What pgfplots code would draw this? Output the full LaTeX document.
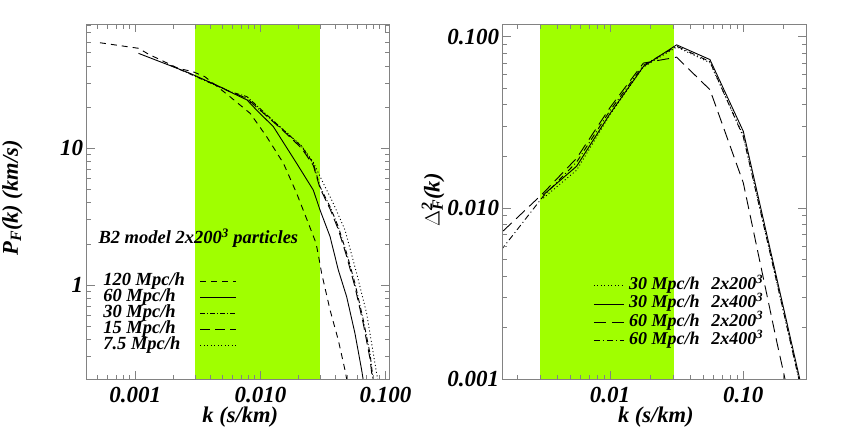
\documentclass[border=0pt]{standalone}
\usepackage{pgfplots}
\pgfplotsset{compat=1.18}
\usepackage{fontspec}
\setmainfont{Liberation Serif}

\definecolor{band}{RGB}{160,255,0}
\definecolor{frame}{RGB}{130,130,130}

\newcommand{\bi}[1]{\fontsize{#1}{#1}\selectfont\bfseries\itshape}

\pgfplotsset{
  idl/.style={
    scale only axis,
    height=354.7pt,
    axis on top,
    clip=true,
    axis line style={frame, line width=0.8pt},
    every tick/.style={frame, line width=0.6pt},
    tick align=inside,
    major tick length=8pt, minor tick length=4.5pt,
    ticklabel style={font=\bi{23}},
    xticklabel style={yshift=-5pt},
    label style={font=\bi{22.5}},
    xlabel={k (s/km)},
    legend cell align=left,
    every axis plot/.append style={line width=0.9pt, black},
  },
}

\begin{document}
\begin{tikzpicture}
\useasboundingbox (0,0) rectangle (866pt,432pt);

% left panel: flux power spectrum for the different box sizes
\begin{loglogaxis}[idl,
  at={(86.7pt,53pt)}, anchor=south west,
  width=302.3pt,
  xmin=0.000408, xmax=0.1069,
  ymin=0.2053, ymax=80.75,
  xtick={0.001,0.01,0.1}, xticklabels={0.001,0.010,0.100},
  minor xtick={0.0005,0.0006,0.0007,0.0008,0.0009,0.002,0.003,0.004,0.005,0.006,0.007,0.008,0.009,0.02,0.03,0.04,0.05,0.06,0.07,0.08,0.09},
  ytick={1,10}, yticklabels={1,10},
  minor ytick={0.3,0.4,0.5,0.6,0.7,0.8,0.9,2,3,4,5,6,7,8,9,20,30,40,50,60,70,80},
  xlabel style={at={(axis description cs:0.508,-0.107)}, anchor=center},
  ylabel={P\textsubscript{F}(k) (km/s)},
  ylabel style={at={(axis description cs:-0.2455,0.5103)}, anchor=center},
  legend plot pos=right,
  legend image code/.code={\draw[#1] (0pt,0pt) -- (36pt,0pt);},
  legend style={at={(axis description cs:0.0549,0.2985)}, anchor=north west,
    draw=none, fill=none, inner sep=0pt, outer sep=0pt, font=\bi{18.5},
    nodes={inner sep=0pt, text height=12pt, text depth=4.1pt},
    column sep=15pt},
]
\addplot[fill=band, draw=none, forget plot] coordinates {
  (0.003,0.01) (0.03,0.01) (0.03,1000) (0.003,1000)} -- cycle;

\addplot[dash pattern=on 6pt off 5pt] coordinates {
  (0.000521,59.2) (0.00106,53.9) (0.00127,48.9) (0.0022,38.5) (0.0029,36.3)
  (0.0036,33.4) (0.0057,23.9) (0.0083,18.0) (0.0112,12.2) (0.0153,7.77)
  (0.0195,4.69) (0.0242,2.83) (0.0279,2.02) (0.0296,1.52) (0.0309,1.22)
  (0.0361,0.656) (0.0420,0.396) (0.0475,0.239) (0.0493,0.2)};
\addlegendentry{120 Mpc/h}

\addplot[solid] coordinates {
  (0.00106,49.5) (0.00273,35.4) (0.00505,27.5) (0.0057,25.9) (0.0078,22.6)
  (0.0093,19.1) (0.0127,14.4) (0.0195,7.77) (0.0265,4.95) (0.030,3.54)
  (0.0361,2.26) (0.0420,1.29) (0.0490,0.821) (0.0571,0.443) (0.0646,0.239)
  (0.0666,0.2)};
\addlegendentry{60 Mpc/h}

\addplot[dash pattern=on 5pt off 2pt on 1pt off 2pt] coordinates {
  (0.0019,40.5) (0.0057,26.0) (0.0078,23.9) (0.0153,13.6) (0.0214,10.3)
  (0.0265,7.77) (0.030,5.24) (0.0361,3.74) (0.0420,2.67) (0.0490,1.71)
  (0.0571,1.03) (0.0666,0.555) (0.0753,0.316) (0.080,0.2)};
\addlegendentry{30 Mpc/h}

\addplot[dash pattern=on 10pt off 5pt] coordinates {
  (0.0038,30.9) (0.0057,26.0) (0.0078,23.2) (0.0153,13.4) (0.0214,10.0)
  (0.0265,7.5) (0.030,5.1) (0.0361,3.6) (0.0420,2.55) (0.0490,1.62)
  (0.0571,0.97) (0.0666,0.52) (0.0753,0.29) (0.079,0.2)};
\addlegendentry{15 Mpc/h}

\addplot[dash pattern=on 1pt off 2.5pt] coordinates {
  (0.0075,23.5) (0.0153,13.7) (0.0214,10.4) (0.0265,7.9) (0.0319,5.55)
  (0.0383,3.96) (0.0475,2.53) (0.0589,1.22) (0.0708,0.621) (0.0851,0.226)
  (0.0873,0.2)};
\addlegendentry{7.5 Mpc/h}

\node[anchor=west, font=\bi{18.5}, inner sep=0pt] at (axis description cs:0.0384,0.3967)
  {B2 model 2x200\textsuperscript{3} particles};
\end{loglogaxis}

% right panel: dimensionless power for two resolutions
\begin{loglogaxis}[idl,
  at={(502.7pt,53pt)}, anchor=south west,
  width=303.3pt,
  xmin=0.001567, xmax=0.2954,
  ymin=0.001, ymax=0.1181,
  xtick={0.01,0.1}, xticklabels={0.01,0.10},
  minor xtick={0.002,0.003,0.004,0.005,0.006,0.007,0.008,0.009,0.02,0.03,0.04,0.05,0.06,0.07,0.08,0.09,0.2},
  ytick={0.001,0.01,0.1}, yticklabels={0.001,0.010,0.100},
  minor ytick={0.002,0.003,0.004,0.005,0.006,0.007,0.008,0.009,0.02,0.03,0.04,0.05,0.06,0.07,0.08,0.09},
  xlabel style={at={(axis description cs:0.505,-0.107)}, anchor=center},
  ylabel={$\Delta$\rlap{\textsuperscript{2}}\textsubscript{F}(k)},
  ylabel style={at={(axis description cs:-0.2298,0.5047)}, anchor=center},
  legend image code/.code={\draw[#1] (0pt,0pt) -- (30pt,0pt);},
  legend style={at={(axis description cs:0.2987,0.289)}, anchor=north west,
    draw=none, fill=none, inner sep=0pt, outer sep=0pt, font=\bi{18},
    nodes={inner sep=0pt, text height=13pt, text depth=5.33pt},
    column sep=5pt},
]
\addplot[fill=band, draw=none, forget plot] coordinates {
  (0.003,0.0001) (0.03,0.0001) (0.03,1) (0.003,1)} -- cycle;

\addplot[dash pattern=on 1pt off 2.5pt] coordinates {
  (0.00316,0.0114) (0.00562,0.0166) (0.01,0.035) (0.0178,0.0665)
  (0.0316,0.087) (0.0562,0.0705) (0.1,0.0265) (0.178,0.0037) (0.316,0.00052)};
\addlegendentry{30 Mpc/h\hspace{0.65em}2x200\textsuperscript{3}}

\addplot[solid] coordinates {
  (0.00316,0.0119) (0.00562,0.0175) (0.01,0.0355) (0.0178,0.0669)
  (0.0316,0.0896) (0.0562,0.0735) (0.1,0.028) (0.178,0.0039) (0.316,0.00055)};
\addlegendentry{30 Mpc/h\hspace{0.65em}2x400\textsuperscript{3}}

\addplot[dash pattern=on 12pt off 6pt] coordinates {
  (0.001,0.00525) (0.00178,0.0080) (0.00316,0.0122) (0.00562,0.0195)
  (0.01,0.0385) (0.0178,0.0701) (0.0316,0.0759) (0.0562,0.049)
  (0.1,0.014) (0.178,0.00166) (0.316,0.00022)};
\addlegendentry{60 Mpc/h\hspace{0.65em}2x200\textsuperscript{3}}

\addplot[dash pattern=on 6pt off 3pt on 1pt off 3pt] coordinates {
  (0.001,0.00375) (0.00178,0.0066) (0.00316,0.0117) (0.00562,0.0185)
  (0.01,0.037) (0.0178,0.068) (0.0316,0.088) (0.0562,0.0715)
  (0.1,0.026) (0.178,0.0037) (0.316,0.00052)};
\addlegendentry{60 Mpc/h\hspace{0.65em}2x400\textsuperscript{3}}
\end{loglogaxis}
\end{tikzpicture}
\end{document}
